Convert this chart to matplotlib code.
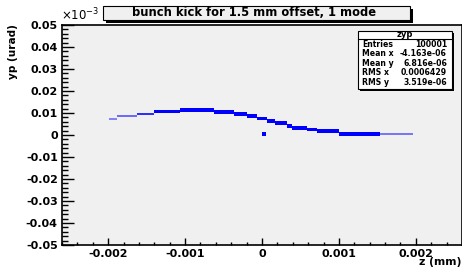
import matplotlib
matplotlib.use("Agg")
import matplotlib.pyplot as plt
from matplotlib.patches import Rectangle
from matplotlib.ticker import MultipleLocator

# ---------------- data (yp in units of 1e-3 urad, z in mm) ----------------
seg_z_start = [-0.00199, -0.00188, -0.00162, -0.00140, -0.00106, -0.00063, -0.00036,
               -0.00020, -0.00006, 0.00006, 0.00017, 0.00032, 0.00039, 0.00058,
               0.00072, 0.00100, 0.00153]
seg_z_end = [-0.00188, -0.00162, -0.00140, -0.00106, -0.00063, -0.00036, -0.00020,
             -0.00006, 0.00006, 0.00017, 0.00032, 0.00039, 0.00058, 0.00072,
             0.00100, 0.00153, 0.00196]
seg_yp_low = [0.00690, 0.00824, 0.00895, 0.00979, 0.01046, 0.00942, 0.00851,
              0.00760, 0.00660, 0.00560, 0.00442, 0.00333, 0.00215, 0.00161,
              0.00112, -0.00025, 0.00005]
seg_yp_high = [0.00760, 0.00904, 0.01015, 0.01139, 0.01226, 0.01122, 0.01031,
               0.00940, 0.00840, 0.00740, 0.00622, 0.00513, 0.00395, 0.00321,
               0.00252, 0.00115, 0.00085]
seg_density = [0.45, 0.55, 0.8, 1, 1, 1, 1, 1, 1, 1, 1, 1, 1, 1, 1, 1, 0.5]

outlier_z = [0.00002]
outlier_yp = [0.0003]

title = "bunch kick for 1.5 mm offset, 1 mode"
stat_names = ["Entries", "Mean x", "Mean y", "RMS x", "RMS y"]
stat_values = ["100001", "-4.163e-06", "6.816e-06", "0.0006429", "3.519e-06"]
hist_name = "zyp"

# ---------------- figure ----------------
W, H = 462, 271
fig = plt.figure(figsize=(W / 100, H / 100), dpi=100)
fig.patch.set_facecolor("white")
FONT = "DejaVu Sans"


def fx(x):
    return x / W


def fy(y):
    return 1 - y / H


ax = fig.add_axes([fx(62), fy(245), fx(462) - fx(62), fy(25) - fy(245)])
ax.set_facecolor("#f0f0f0")
ax.set_xlim(-0.0026, 0.0026)
ax.set_ylim(-0.05, 0.05)

for z0, z1, lo, hi, d in zip(seg_z_start, seg_z_end, seg_yp_low, seg_yp_high, seg_density):
    ax.bar(z0, hi - lo, width=z1 - z0, bottom=lo, align="edge",
           color="#0000ff", alpha=d, linewidth=0)
ax.scatter(outlier_z, outlier_yp, s=6, marker="s", color="#0000ff", linewidths=0)

ax.xaxis.set_major_locator(MultipleLocator(0.001))
ax.xaxis.set_minor_locator(MultipleLocator(0.0002))
ax.yaxis.set_major_locator(MultipleLocator(0.01))
ax.yaxis.set_minor_locator(MultipleLocator(0.002))

ax.tick_params(axis="x", which="major", direction="in", length=4.8, width=1,
               top=False, pad=3)
ax.tick_params(axis="x", which="minor", direction="in", length=2.4, width=1, top=False)
ax.tick_params(axis="y", which="major", direction="in", length=8.6, width=1,
               right=False, pad=3)
ax.tick_params(axis="y", which="minor", direction="in", length=4.3, width=1, right=False)


def fmt(v):
    s = f"{v:.3f}".rstrip("0").rstrip(".")
    return "0" if s in ("0", "-0") else s


xt = [-0.002, -0.001, 0, 0.001, 0.002]
ax.set_xticks(xt)
ax.set_xticklabels([fmt(v) for v in xt])
yt = [-0.05, -0.04, -0.03, -0.02, -0.01, 0, 0.01, 0.02, 0.03, 0.04, 0.05]
ax.set_yticks(yt)
ax.set_yticklabels(["0" if abs(v) < 1e-12 else f"{v:.2f}" for v in yt])
for lab in ax.get_xticklabels() + ax.get_yticklabels():
    lab.set_fontfamily(FONT)
    lab.set_fontweight("bold")
    lab.set_fontsize(8)

for s in ax.spines.values():
    s.set_linewidth(1.2)

# exponent label
fig.text(fx(61), fy(23), r"$\times$10$^{-3}$", fontsize=8.5, family=FONT,
         ha="left", va="bottom")

# axis titles
fig.text(fx(13), fy(24), "yp (urad)", rotation=90, fontsize=7.6, family=FONT,
         fontweight="bold", ha="center", va="top")
fig.text(fx(461), fy(262), "z (mm)", fontsize=7.8, family=FONT,
         fontweight="bold", ha="right", va="center")

# title box with shadow
fig.patches.append(Rectangle((fx(106), fy(22.5)), fx(410) - fx(103), fy(6) - fy(20),
                             transform=fig.transFigure, facecolor="black",
                             edgecolor="black", linewidth=0))
fig.patches.append(Rectangle((fx(103), fy(20)), fx(410) - fx(103), fy(6) - fy(20),
                             transform=fig.transFigure, facecolor="#f0f0f0",
                             edgecolor="black", linewidth=0.8))
fig.text(fx(254), fy(13), title, fontsize=8.3, family=FONT, fontweight="bold",
         ha="center", va="center")

# stats box
bx0, bx1, by0, by1 = 358, 452, 31, 89
fig.patches.append(Rectangle((fx(bx0) + fx(1.5), fy(by1 + 1.5)), fx(bx1) - fx(bx0),
                             fy(by0) - fy(by1), transform=fig.transFigure,
                             facecolor="black", linewidth=0))
fig.patches.append(Rectangle((fx(bx0), fy(by1)), fx(bx1) - fx(bx0), fy(by0) - fy(by1),
                             transform=fig.transFigure, facecolor="white",
                             edgecolor="black", linewidth=0.8))
fig.add_artist(plt.Line2D([fx(bx0), fx(bx1)], [fy(39), fy(39)],
                          transform=fig.transFigure, color="black", linewidth=0.8))
fig.text(fx((bx0 + bx1) / 2), fy(34.5), hist_name, fontsize=6, family=FONT,
         fontweight="bold", ha="center", va="center")
row_y = [44.3, 54, 63.5, 72.7, 82.3]
for name, val, ry in zip(stat_names, stat_values, row_y):
    fig.text(fx(362), fy(ry), name, fontsize=5.6, family=FONT, fontweight="bold",
             ha="left", va="center")
    fig.text(fx(447), fy(ry), val, fontsize=5.6, family=FONT, fontweight="bold",
             ha="right", va="center")

fig.savefig("out.png", dpi=100, facecolor="white")
